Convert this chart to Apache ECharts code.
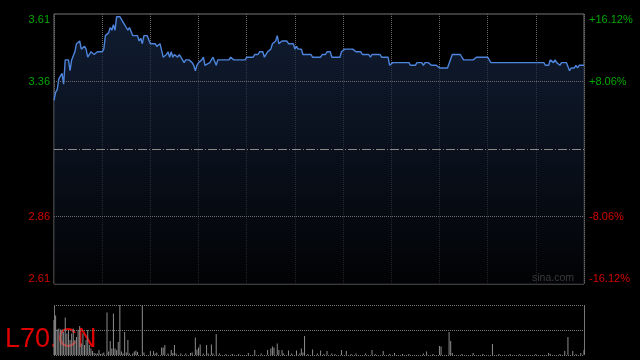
<!DOCTYPE html>
<html><head><meta charset="utf-8">
<script src="https://cdn.jsdelivr.net/npm/echarts@6/dist/echarts.min.js"></script>
<style>html,body{margin:0;padding:0;background:#000}#c{width:640px;height:360px}</style>
</head><body><div id="c"></div>
<script>
const PREV_CLOSE = 3.11;
const priceMinutes = [0,1,2,3,5,6,7,9,10,11,13,14,15,16,17,19,20,21,23,24,25,27,30,31,32,33,34,35,36,37,38,39,41,42,43,45,46,47,48,49,52,53,54,55,56,58,60,63,64,65,66,68,70,71,72,73,74,75,77,78,79,80,81,82,84,86,87,88,89,90,92,93,94,95,97,98,99,101,102,109,110,112,119,120,124,125,127,128,130,131,133,135,136,138,139,140,142,145,146,149,150,151,152,154,155,160,161,166,167,169,170,172,173,178,179,180,181,186,188,191,192,196,197,198,203,204,208,209,210,211,221,222,225,226,229,230,231,233,235,238,240,245,248,253,255,261,263,270,272,305,306,308,309,311,312,313,314,315,316,319,321,322,324,325,326,327,330];
const prices = [3.29,3.32,3.33,3.37,3.39,3.35,3.44,3.44,3.40,3.44,3.47,3.50,3.50,3.51,3.48,3.49,3.48,3.45,3.47,3.47,3.46,3.47,3.47,3.48,3.53,3.53,3.54,3.56,3.55,3.57,3.55,3.60,3.60,3.60,3.58,3.56,3.55,3.56,3.56,3.53,3.53,3.51,3.52,3.50,3.53,3.53,3.50,3.50,3.49,3.49,3.50,3.45,3.46,3.47,3.45,3.47,3.45,3.46,3.45,3.46,3.45,3.45,3.43,3.44,3.44,3.43,3.42,3.40,3.42,3.43,3.44,3.45,3.42,3.42,3.43,3.43,3.45,3.42,3.44,3.44,3.45,3.44,3.44,3.45,3.45,3.46,3.46,3.47,3.47,3.45,3.47,3.48,3.50,3.51,3.53,3.50,3.51,3.51,3.50,3.50,3.48,3.49,3.48,3.48,3.46,3.46,3.45,3.45,3.46,3.46,3.47,3.47,3.45,3.45,3.47,3.47,3.48,3.48,3.47,3.47,3.46,3.46,3.45,3.46,3.46,3.45,3.45,3.42,3.42,3.43,3.43,3.42,3.42,3.43,3.43,3.42,3.43,3.43,3.42,3.42,3.41,3.41,3.46,3.46,3.44,3.44,3.45,3.45,3.43,3.43,3.42,3.42,3.44,3.43,3.44,3.43,3.43,3.42,3.43,3.43,3.40,3.41,3.41,3.42,3.41,3.42,3.42];
const volMinutes = [0,1,2,3,4,5,6,7,8,9,10,11,12,13,14,15,16,17,18,19,20,21,22,23,24,25,26,27,28,29,30,31,33,34,35,36,37,38,39,40,41,42,43,44,45,46,47,49,50,51,52,55,56,60,62,63,64,67,68,69,71,73,74,75,76,79,82,85,86,88,89,90,91,93,95,96,98,99,101,103,107,111,115,121,125,129,133,135,136,137,139,140,142,143,146,148,151,153,154,155,156,158,161,164,166,168,170,173,175,179,182,185,188,194,198,200,205,209,212,217,221,230,232,236,240,241,246,247,248,254,261,267,273,277,284,290,300,308,309,315,318,320,323,325,328,330];
const volumes = [70,79,51,53,51,51,46,75,43,50,30,43,53,30,36,50,58,23,43,20,30,50,20,13,8,4,3,3,10,2,3,5,85,7,28,13,83,13,10,26,100,7,3,46,5,30,3,3,7,9,6,99,5,8,8,3,5,15,15,20,3,10,4,20,3,3,3,4,5,35,11,15,21,3,20,3,21,3,42,3,2,2,2,4,10,3,10,13,17,15,23,10,10,3,9,3,9,3,13,5,38,2,11,3,9,2,8,3,2,10,8,2,3,3,10,2,8,2,4,2,2,3,7,2,18,17,46,28,4,2,4,2,22,2,2,2,2,4,2,2,8,36,8,2,4,10];
const leftTickLabels = ['2.61','2.86','','3.36','3.61'];
const rightTickLabels = ['-16.12%','-8.06%','','+8.06%','+16.12%'];
const gridLinePrices = [2.86, 3.36];

const UP = '#00a800', DOWN = '#d40000';
const lineData = priceMinutes.map((m, i) => [m, +(prices[i] - PREV_CLOSE).toFixed(4)]);
const barData = volMinutes.map((m, i) => [m, volumes[i]]);
const tickIdx = v => Math.round(parseFloat(v) / 0.25) + 2;
const dotted = {color: '#6a6a6a', type: 'dotted', width: 1};

const chart = echarts.init(document.getElementById('c'), null, {renderer: 'canvas'});
chart.setOption({
  animation: false,
  backgroundColor: '#000',
  grid: [
    {left: 54, top: 14, width: 530, height: 270, show: true, borderColor: '#777', borderWidth: 1, backgroundColor: 'transparent'},
    {left: 54, top: 305, width: 530, height: 50}
  ],
  xAxis: [
    {type: 'value', gridIndex: 0, min: 0, max: 330, interval: 30,
     axisLine: {show: false}, axisTick: {show: false}, axisLabel: {show: false},
     splitLine: {show: true, lineStyle: dotted}},
    {type: 'value', gridIndex: 1, min: 0, max: 330, interval: 330,
     axisLine: {show: false}, axisTick: {show: false}, axisLabel: {show: false},
     splitLine: {show: true, lineStyle: {color: '#777', width: 1}}}
  ],
  yAxis: [
    {type: 'value', gridIndex: 0, position: 'left', min: -0.5, max: 0.5, interval: 0.25,
     axisLine: {show: false}, axisTick: {show: false}, splitLine: {show: false},
     axisLabel: {margin: 4, fontSize: 11, fontFamily: 'Liberation Sans, Arial, sans-serif',
       formatter: v => leftTickLabels[tickIdx(v)],
       color: v => parseFloat(v) > 0 ? UP : DOWN,
       verticalAlignMaxLabel: 'top', verticalAlignMinLabel: 'bottom'}},
    {type: 'value', gridIndex: 0, position: 'right', min: -0.5, max: 0.5, interval: 0.25,
     axisLine: {show: false}, axisTick: {show: false}, splitLine: {show: false},
     axisLabel: {margin: 5, fontSize: 11, fontFamily: 'Liberation Sans, Arial, sans-serif',
       formatter: v => rightTickLabels[tickIdx(v)],
       color: v => parseFloat(v) > 0 ? UP : DOWN,
       verticalAlignMaxLabel: 'top', verticalAlignMinLabel: 'bottom'}},
    {type: 'value', gridIndex: 1, min: 0, max: 100, interval: 50,
     axisLine: {show: false}, axisTick: {show: false}, axisLabel: {show: false},
     splitLine: {show: true, lineStyle: {color: '#777', type: 'dotted', width: 1}}}
  ],
  series: [
    {type: 'line', xAxisIndex: 0, yAxisIndex: 0, data: lineData, symbol: 'none', showSymbol: false,
     lineStyle: {color: '#4d84dc', width: 1.4},
     areaStyle: {origin: 'start', color: new echarts.graphic.LinearGradient(0, 0, 0, 1, [
       {offset: 0, color: '#172845'}, {offset: 0.55, color: '#0d1626'}, {offset: 1, color: '#020305'}])},
     markLine: {silent: true, symbol: 'none', label: {show: false},
       data: gridLinePrices.map(p => ({yAxis: +(p - PREV_CLOSE).toFixed(4), lineStyle: dotted}))
         .concat([{yAxis: 0, lineStyle: {color: '#8a8a8a', width: 1, type: [9, 2, 1, 2]}}])}},
    {type: 'bar', xAxisIndex: 1, yAxisIndex: 2, data: barData, barWidth: 1,
     itemStyle: {color: '#8c8c8c'}}
  ],
  graphic: [
    {type: 'text', left: 532, top: 273, style: {text: 'sina.com', fill: '#b4b4b4', fontSize: 10.5, fontFamily: 'Liberation Sans, Arial, sans-serif'}},
    {type: 'text', left: 5, top: 326, style: {text: 'L70.CN', fill: '#e00000', fontSize: 27, fontFamily: 'Liberation Sans, Arial, sans-serif'}}
  ]
});
</script></body></html>
